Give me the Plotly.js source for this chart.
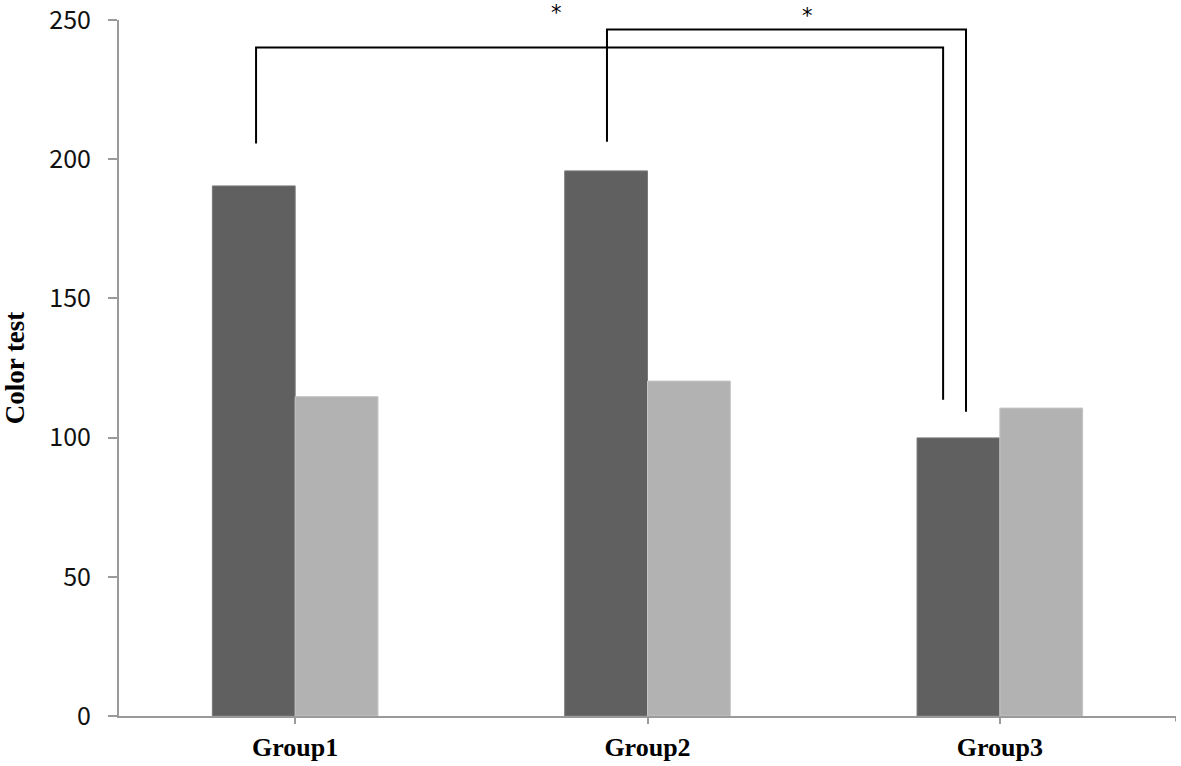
<!DOCTYPE html>
<html>
<head>
<meta charset="utf-8">
<script src="https://cdn.plot.ly/plotly-3.0.1.min.js"></script>
<style>
  html, body { margin: 0; padding: 0; background: #fff; }
  #chart { width: 1181px; height: 766px; }
</style>
</head>
<body>
<div id="chart"></div>
<script>
// Values
const groups = ["Group1", "Group2", "Group3"];
const seriesDark = [190.4, 195.8, 99.9];
const seriesLight = [114.7, 120.3, 110.6];

// Significance brackets: [left x, left bottom y, right x, right bottom y, top y]
const brackets = [
  [-0.111, 205.6, 1.839, 113.6, 240.1],
  [0.885, 206.3, 1.904, 109.3, 246.6]
];
// asterisk positions (x in category units, y = top of text box in paper units)
const starX = [0.743, 1.453];
const starY = [1.0287, 1.0244];

const dark = {
  x: groups,
  y: seriesDark,
  type: "bar",
  marker: { color: "#606060", line: { color: "#7a7a7a", width: 1 } },
  hoverinfo: "none"
};

const light = {
  x: groups,
  y: seriesLight,
  type: "bar",
  marker: { color: "#b2b2b2", line: { color: "#c4c4c4", width: 1 } },
  hoverinfo: "none"
};

const shapes = [];
brackets.forEach(b => {
  const path = `M ${b[0]} ${b[1]} L ${b[0]} ${b[4]} L ${b[2]} ${b[4]} L ${b[2]} ${b[3]}`;
  shapes.push({
    type: "path", xref: "x", yref: "y", path: path,
    line: { color: "#000", width: 2 }
  });
});
// small end tick at the right of the category axis
shapes.push({
  type: "line", xref: "x", yref: "paper", x0: 2.5, x1: 2.5, y0: 0, y1: -0.008,
  line: { color: "#9a9a9a", width: 2 }
});

const annotations = starX.map((x, i) => ({
  x: x, y: starY[i], xref: "x", yref: "paper", text: "*", showarrow: false,
  yanchor: "top", borderpad: 0,
  font: { family: "DejaVu Sans, sans-serif", size: 21, color: "#000" }
}));

const layout = {
  width: 1181,
  height: 766,
  margin: { l: 119, r: 5, t: 20, b: 50 },
  paper_bgcolor: "#fff",
  plot_bgcolor: "#fff",
  barmode: "group",
  bargap: 0.53,
  bargroupgap: 0,
  showlegend: false,
  xaxis: {
    type: "category",
    range: [-0.5, 2.5],
    showgrid: false,
    zeroline: false,
    showline: true,
    linecolor: "#9a9a9a",
    linewidth: 2,
    ticks: "outside",
    ticklen: 6,
    tickwidth: 2,
    tickcolor: "#9a9a9a",
    ticklabelstandoff: 1,
    tickfont: { family: "Liberation Serif, Times New Roman, serif", size: 26, color: "#000", weight: "bold" }
  },
  yaxis: {
    range: [0, 250],
    dtick: 50,
    showgrid: false,
    zeroline: false,
    showline: true,
    linecolor: "#9a9a9a",
    linewidth: 2,
    ticks: "outside",
    ticklen: 9,
    tickwidth: 2,
    tickcolor: "#9a9a9a",
    ticklabelstandoff: 12,
    ticklabeloverflow: "allow",
    tickfont: { family: "Noto Sans CJK KR, Noto Sans, sans-serif", size: 25, color: "#111" },
    title: {
      text: "<b>Color test</b>",
      standoff: 17,
      font: { family: "Liberation Serif, Times New Roman, serif", size: 27, color: "#000" }
    }
  },
  shapes: shapes,
  annotations: annotations
};

Plotly.newPlot("chart", [dark, light], layout, { displayModeBar: false, staticPlot: true });
</script>
</body>
</html>
